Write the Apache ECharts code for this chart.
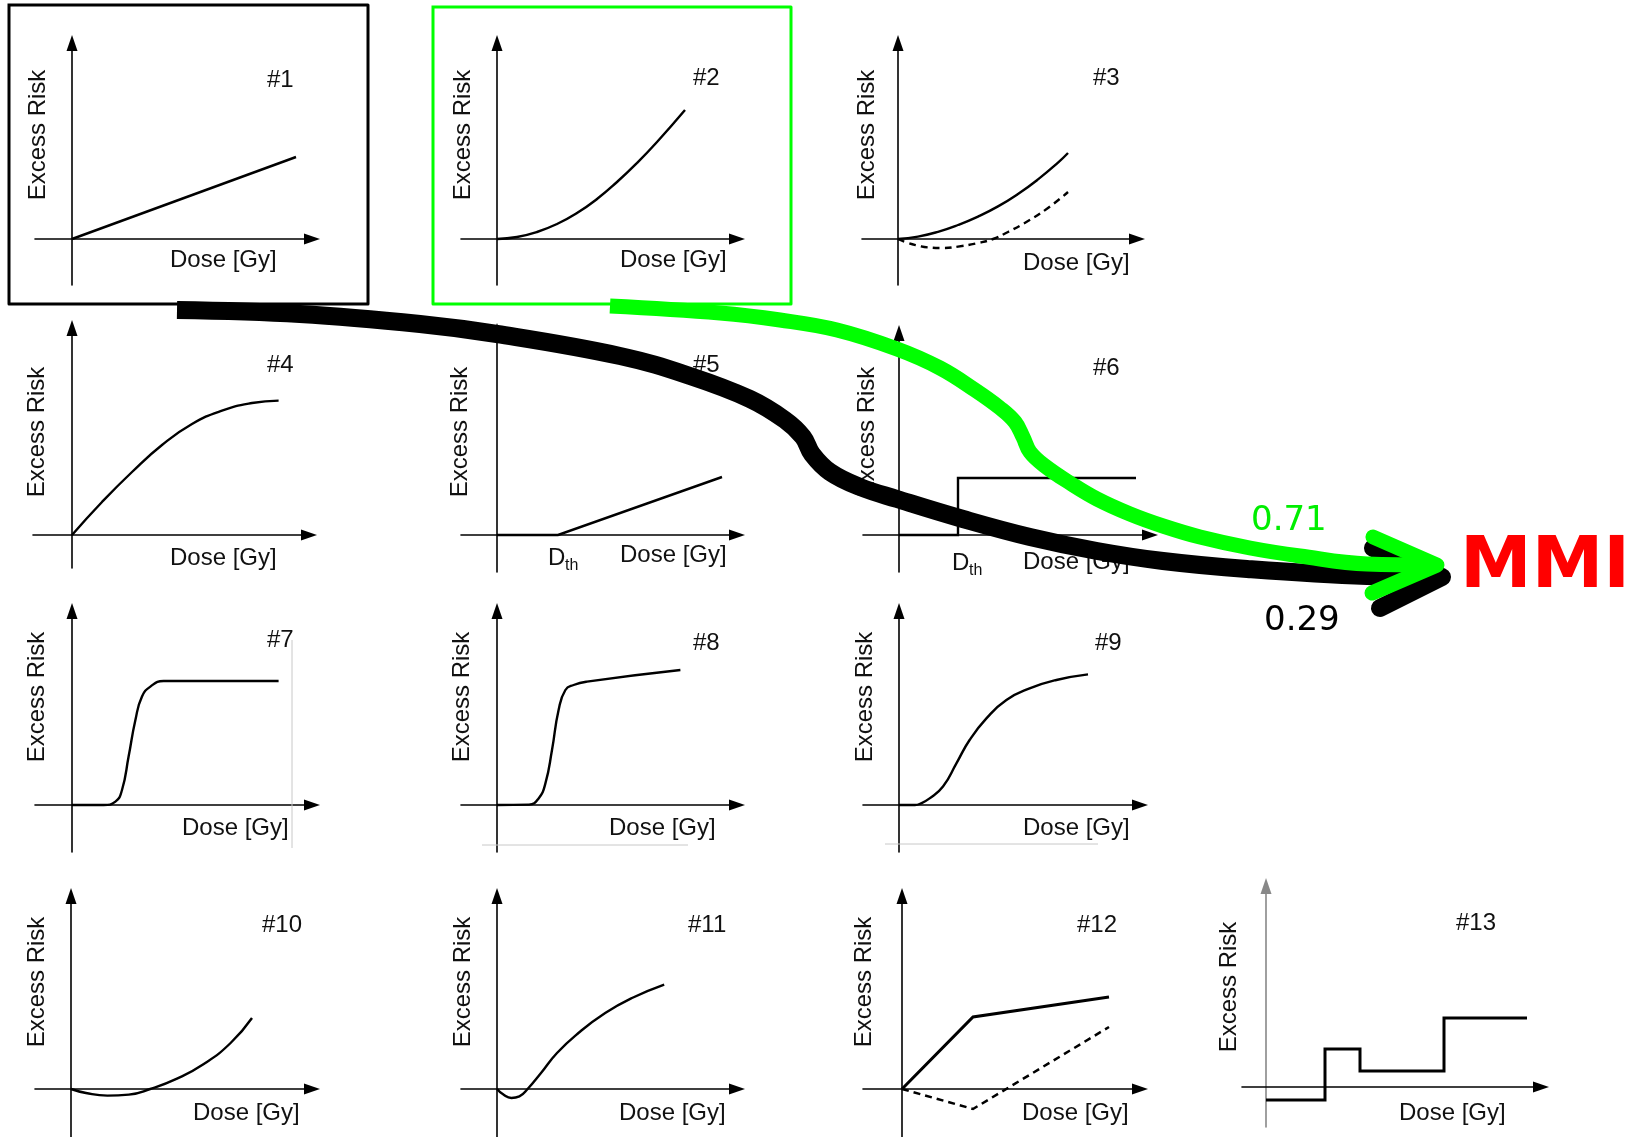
<!DOCTYPE html>
<html><head><meta charset="utf-8">
<script src="https://cdn.jsdelivr.net/npm/echarts@6/dist/echarts.min.js"></script>
<style>html,body{margin:0;padding:0;background:#fff}#c{width:1637px;height:1137px}</style>
</head><body><div id="c"></div>
<script>
// ---------------- DATA ----------------
const panelLabels = ['#1','#2','#3','#4','#5','#6','#7','#8','#9','#10','#11','#12','#13'];
const doseTitle = 'Dose [Gy]';
const riskTitle = 'Excess Risk';
const thresholdLabel = ['D', 'th'];

// dose-response curves, [dose, excess risk] (arbitrary units)
const curve1 = [[0,0],[11.2,4.1]];
const curve2 = [[0,0],[1,0.1],[2,0.35],[3,0.75],[4,1.3],[5,2.0],[6,2.85],[7,3.8],[8,4.85],[9.4,6.45]];
const curve3Solid = [[0,0],[1,0.12],[2,0.36],[3,0.7],[4,1.12],[5,1.63],[6,2.25],[7,2.98],[8,3.82],[8.5,4.3]];
const curve3Dashed = [[0,0],[0.5,-0.2],[1,-0.33],[1.5,-0.42],[2.25,-0.45],[3,-0.38],[4,-0.2],[4.75,0],[5.5,0.35],[6.5,0.9],[7.5,1.55],[8.5,2.35]];
const curve4 = [[0,0],[1.5,1.65],[3,3.15],[4.5,4.5],[6,5.55],[7.5,6.22],[9,6.6],[10.33,6.72]];
const curve5 = [[0,0],[3.05,0],[11.25,2.9]];
const curve6 = [[0,0],[2.95,0],[2.95,2.85],[11.85,2.85]];
const curve7 = [[0,0],[1.58,0],[2.17,0.17],[2.5,0.75],[2.83,2.42],[3.17,4.25],[3.5,5.42],[3.92,5.92],[4.58,6.2],[10.33,6.2]];
const curve8 = [[0,0],[1.6,0.02],[2.08,0.33],[2.42,1.08],[2.75,2.75],[3.08,4.75],[3.42,5.75],[3.83,6.0],[4.5,6.17],[9.17,6.75]];
const curve9 = [[0,0],[0.8,0],[1.03,0.05],[1.53,0.33],[2.2,0.92],[2.87,2.08],[3.53,3.25],[4.37,4.33],[5.37,5.25],[6.53,5.83],[7.87,6.25],[9.45,6.53]];
const curve10 = [[0,0],[0.75,-0.2],[1.82,-0.33],[2.89,-0.28],[3.96,0],[5.3,0.52],[6.64,1.25],[7.98,2.3],[9.05,3.55]];
const curve11 = [[0,0],[0.32,-0.28],[0.72,-0.45],[1.12,-0.37],[1.53,0],[2.2,0.8],[3.0,1.8],[4.07,2.8],[5.41,3.8],[6.75,4.55],[8.36,5.22]];
const curve12Solid = [[0,0],[3.55,3.6],[10.35,4.6]];
const curve12Dashed = [[0,0],[3.55,-1.0],[10.35,3.1]];
const curve13 = [[0,-0.65],[2.95,-0.65],[2.95,1.9],[4.7,1.9],[4.7,0.8],[8.9,0.8],[8.9,3.45],[13.05,3.45]];
// faint scan lines in the source image
const faint7 = [[11.0,8.25],[11.0,-2.15]];
const faint8 = [[-0.75,-2.0],[9.55,-2.0]];
const faint9 = [[-0.7,-1.95],[9.95,-1.95]];

// selection overlay (page coordinates)
const boxBlack = [[9,5],[368,5],[368,304],[9,304],[9,5]];
const boxGreen = [[433,7],[791,7],[791,304],[433,304],[433,7]];
const arrowBlack = [[177,310],[300,314],[420,324],[497,334],[620,356],[690,376],[750,399],[785,420],[803,437],[812,454],[830,472],[860,487],[897,499],[963,519],[1030,537],[1097,551],[1163,561],[1247,569],[1367,576],[1440,577]];
const arrowBlackHead = [[1373,548],[1442,577],[1380,608]];
const arrowGreen = [[610,306],[720,313],[780,320],[837,330],[897,349],[940,368],[975,390],[1000,408],[1015,422],[1023,437],[1030,452],[1045,466],[1070,483],[1097,499],[1130,514],[1163,526],[1200,537],[1250,548],[1300,556],[1367,564],[1435,565]];
const arrowGreenHead = [[1373,537],[1437,565],[1372,593]];
const weightGreen = '0.71';
const weightBlack = '0.29';
const targetLabel = 'MMI';

// ---------------- LAYOUT ----------------
const U = 20; // px per data unit
const layout = [
 {o:[72,239], xl:35, xr:320, yt:35, yb:285, num:[195,-159], dose:[98,21], er:[-34,-104]},
 {o:[497,239], xl:461, xr:745, yt:35, yb:285, num:[196,-161], dose:[123,21], er:[-34,-104]},
 {o:[898,239], xl:862, xr:1145, yt:35, yb:285, num:[195,-161], dose:[125,24], er:[-31,-104]},
 {o:[72,535], xl:33, xr:317, yt:320, yb:568, num:[195,-170], dose:[98,23], er:[-35,-103]},
 {o:[497,535], xl:461, xr:745, yt:323, yb:572, num:[196,-170], dose:[123,20], er:[-37,-103], dth:[51,23]},
 {o:[899,535], xl:863, xr:1158, yt:325, yb:572, num:[194,-167], dose:[124,27], er:[-32,-103], dth:[53,28]},
 {o:[72,805], xl:35, xr:320, yt:603, yb:852, num:[195,-165], dose:[110,23], er:[-35,-108]},
 {o:[497,805], xl:461, xr:745, yt:603, yb:852, num:[196,-162], dose:[112,23], er:[-35,-108]},
 {o:[899,805], xl:863, xr:1148, yt:603, yb:852, num:[196,-162], dose:[124,23], er:[-34,-108]},
 {o:[71,1089], xl:35, xr:320, yt:888, yb:1137, num:[191,-164], dose:[122,24], er:[-34,-107]},
 {o:[497,1089], xl:461, xr:745, yt:888, yb:1137, num:[191,-164], dose:[122,24], er:[-34,-107]},
 {o:[902,1089], xl:863, xr:1148, yt:888, yb:1137, num:[175,-164], dose:[120,24], er:[-38,-107]},
 {o:[1266,1087], xl:1242, xr:1549, yt:878, yb:1127, num:[190,-164], dose:[133,26], er:[-37,-100], yAxisColor:'#888'}
];

const panelCurves = [
 [{d:curve1}],
 [{d:curve2, s:true}],
 [{d:curve3Solid, s:true},{d:curve3Dashed, s:true, dash:true}],
 [{d:curve4, s:true}],
 [{d:curve5}],
 [{d:curve6}],
 [{d:curve7, s:true},{d:faint7, faint:true}],
 [{d:curve8, s:true},{d:faint8, faint:true}],
 [{d:curve9, s:true},{d:faint9, faint:true}],
 [{d:curve10, s:true}],
 [{d:curve11, s:true}],
 [{d:curve12Solid, w:3},{d:curve12Dashed, dash:true, w:2.5}],
 [{d:curve13, w:3}]
];

const FONT = '24px "Liberation Sans", Arial, sans-serif';
const AH = 16; // arrow head length
const grids = [], xAxes = [], yAxes = [], series = [], graphics = [];

function txt(x, y, text, o) {
  o = o || {};
  return {type:'text', x:x, y:y, rotation:o.rot||0, z:1, silent:true,
    style:{text:text, fill:o.fill||'#111', font:o.font||FONT,
      align:o.align||'left', verticalAlign:'middle', textAlign:o.align||'left', textVerticalAlign:'middle'}};
}

layout.forEach((L, i) => {
  const ox = L.o[0], oy = L.o[1];
  const right = L.xr - AH/2, top = L.yt + AH/2;
  grids.push({left:L.xl, top:top, width:right - L.xl, height:L.yb - top});
  const axLine = (col) => ({show:true, onZero:true, symbol:['none','triangle'], symbolSize:[11, AH],
      lineStyle:{color:col||'#000', width:1.6}});
  xAxes.push({gridIndex:i, type:'value', min:(L.xl-ox)/U, max:(right-ox)/U,
    axisLine:axLine(), axisTick:{show:false}, axisLabel:{show:false}, splitLine:{show:false}});
  yAxes.push({gridIndex:i, type:'value', min:-(L.yb-oy)/U, max:(oy-top)/U,
    axisLine:axLine(L.yAxisColor), axisTick:{show:false}, axisLabel:{show:false}, splitLine:{show:false}});
  panelCurves[i].forEach(c => {
    series.push({type:'line', xAxisIndex:i, yAxisIndex:i, data:c.d, symbol:'none', showSymbol:false,
      smooth: c.s ? 0.5 : false, z:3, silent:true, animation:false,
      lineStyle: c.faint ? {color:'#c8c8c8', width:1} :
        {color:'#000', width:c.w||2.4, type:c.dash?[7,5]:'solid', cap:'butt', join:'miter'}});
  });
  graphics.push(txt(ox+L.num[0], oy+L.num[1], panelLabels[i]));
  graphics.push(txt(ox+L.dose[0], oy+L.dose[1], doseTitle));
  graphics.push(txt(ox+L.er[0], oy+L.er[1], riskTitle, {rot:Math.PI/2, align:'center'}));
  if (L.dth) {
    graphics.push(txt(ox+L.dth[0], oy+L.dth[1], thresholdLabel[0]));
    graphics.push(txt(ox+L.dth[0]+17, oy+L.dth[1]+8, thresholdLabel[1], {font:'16px "Liberation Sans", Arial, sans-serif'}));
  }
});

// overlay coordinate system = page pixels
const OV = layout.length;
grids.push({left:0, top:0, width:1637, height:1137});
xAxes.push({gridIndex:OV, type:'value', min:0, max:1637, show:false});
yAxes.push({gridIndex:OV, type:'value', min:0, max:1137, inverse:true, show:false});
function ov(data, color, width, smooth, cap, z) {
  series.push({type:'line', xAxisIndex:OV, yAxisIndex:OV, data:data, symbol:'none', showSymbol:false,
    smooth:smooth, z:z, silent:true, animation:false,
    lineStyle:{color:color, width:width, cap:cap, join:'round'}});
}
ov(boxBlack, '#000', 3, false, 'square', 6);
ov(boxGreen, '#00ff00', 3, false, 'square', 6);
ov(arrowBlack, '#000', 18, 0.4, 'butt', 7);
ov(arrowBlackHead, '#000', 18, false, 'round', 7);
ov(arrowGreen, '#00ff00', 15, 0.4, 'butt', 8);
ov(arrowGreenHead, '#00ff00', 15, false, 'round', 8);

graphics.push(Object.assign(txt(1251, 521, weightGreen, {fill:'#00ee00', font:'34px "DejaVu Sans", Verdana, sans-serif'}), {z:10}));
graphics.push(Object.assign(txt(1264, 621, weightBlack, {fill:'#000', font:'34px "DejaVu Sans", Verdana, sans-serif'}), {z:10}));
graphics.push(Object.assign(txt(1460, 568, targetLabel, {fill:'#ff0000', font:'bold 72px "DejaVu Sans", Verdana, sans-serif'}), {z:10}));

const chart = echarts.init(document.getElementById('c'), null, {renderer:'canvas'});
chart.setOption({animation:false, backgroundColor:'#fff', grid:grids, xAxis:xAxes, yAxis:yAxes, series:series, graphic:graphics});
</script></body></html>
